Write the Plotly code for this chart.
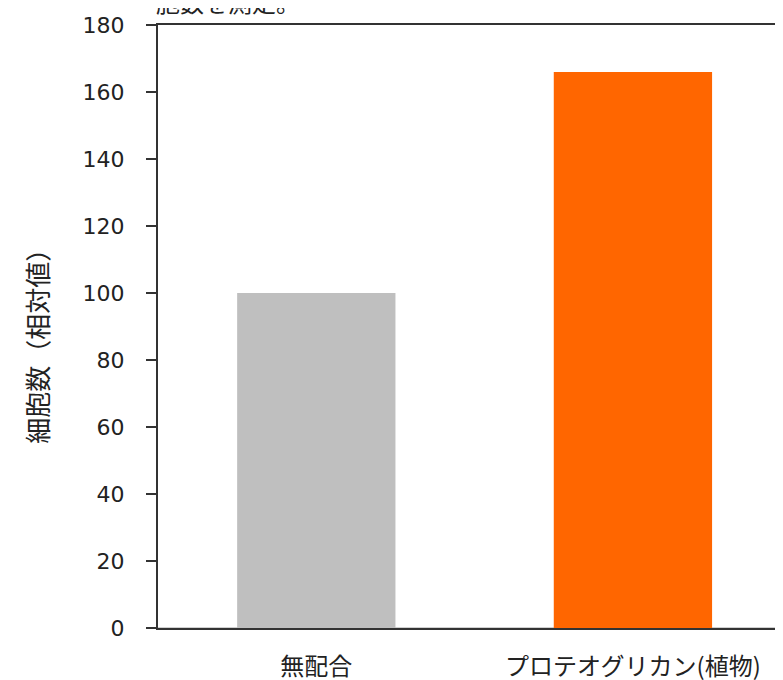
import plotly.graph_objects as go

categories = ["無配合", "プロテオグリカン(植物)"]
values = [100, 166]
bar_colors = ["#BFBFBF", "#FF6600"]
y_ticks = [0, 20, 40, 60, 80, 100, 120, 140, 160, 180]
y_title = "細胞数（相対値）"
top_text = "胞数を測定。"

fig = go.Figure()
fig.add_trace(go.Bar(x=categories, y=values, marker=dict(color=bar_colors, line=dict(width=0)), width=0.5))

fig.update_layout(
    width=775, height=672,
    margin=dict(l=150, r=0, t=17, b=52, pad=0, autoexpand=False),
    plot_bgcolor="white", paper_bgcolor="white",
    showlegend=False,
    font=dict(family="Noto Sans CJK JP", color="#333333"),
)
fig.update_xaxes(
    range=[-0.5, 1.474], automargin=False,
    showline=True, linecolor="#333333", linewidth=2, mirror=True,
    ticks="", showgrid=False,
    tickfont=dict(family="Noto Sans CJK JP", size=24, color="#222222"),
    ticklabelstandoff=16,
)
fig.update_yaxes(
    range=[0, 180], tickvals=y_ticks, automargin=False,
    showline=True, linecolor="#333333", linewidth=2,
    ticks="outside", ticklen=10, tickwidth=2, tickcolor="#333333",
    showgrid=False, zeroline=True, zerolinecolor="#D0D0D0", zerolinewidth=2,
    tickfont=dict(family="DejaVu Sans", size=22, color="#222222"),
    ticklabelstandoff=17,
)
fig.add_annotation(
    text=y_title, textangle=-90, xref="paper", yref="paper",
    x=(29 - 150) / 625, y=0.478, xanchor="center", yanchor="middle",
    showarrow=False, font=dict(family="Noto Sans CJK JP", size=26, color="#222222"),
)
fig.add_annotation(
    text=top_text, xref="paper", yref="paper",
    x=-0.006, y=1.0, xanchor="left", yanchor="bottom", yshift=4,
    showarrow=False, font=dict(family="Noto Sans CJK JP", size=24, color="#222222"),
)
fig.write_html("out.html")
